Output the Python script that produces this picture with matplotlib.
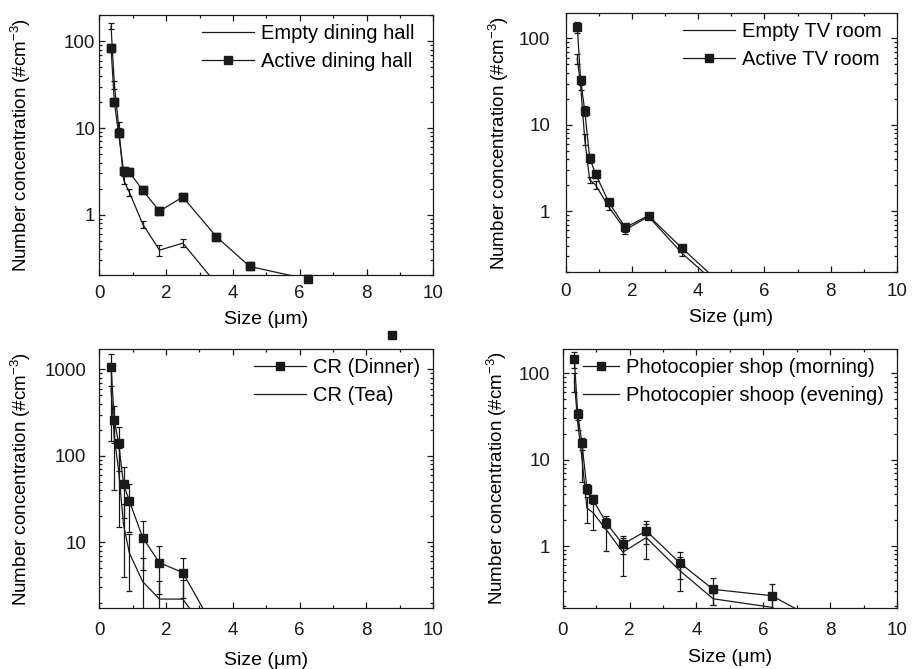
import matplotlib
matplotlib.use('Agg')
import matplotlib.pyplot as plt
from matplotlib import ticker

plt.rcParams['font.family'] = ['Liberation Sans', 'DejaVu Sans']
plt.rcParams['mathtext.default'] = 'regular'

# particle size bins (um)
size_bins = [0.35, 0.45, 0.575, 0.725, 0.9, 1.3, 1.8, 2.5, 3.5, 4.5, 6.25, 8.75]

# dining hall
empty_dining = [150, 31.6, 10.9, 2.53, 1.81, 0.78, 0.39, 0.47, 0.16]
empty_dining_err = [12, 3.5, 0.8, 0.25, 0.15, 0.07, 0.06, 0.05, 0.02]
active_dining = [84, 19.8, 8.75, 3.2, 3.1, 1.91, 1.1, 1.6, 0.56, 0.253, 0.18, 0.041]

# TV room
empty_tv = [58, 29, 6.8, 2.3, 2.03, 1.12, 0.61, 0.87, 0.33, 0.15]
empty_tv_err = [8, 4, 1.0, 0.2, 0.2, 0.08, 0.06, 0.04, 0.03, 0.02]
active_tv = [136, 33, 14.6, 4.1, 2.72, 1.27, 0.65, 0.89, 0.377, 0.168]
active_tv_err = [20, 4, 2, 0.5, 0.3, 0.1, 0.07, 0.05, 0.02, 0.02]

# CR
cr_dinner = [1070, 260, 142, 47, 30, 11.3, 5.8, 4.46, 0.92, 0.3]
cr_dinner_err = [430, 120, 75, 28, 17, 6.5, 3.3, 2.2, 0.5, 0.2]
cr_tea = [600, 160, 69, 16, 7.5, 3.5, 2.2, 2.2, 0.66]
cr_tea_err = [450, 120, 54, 12, 4.8, 3, 1.4, 1.5, 0.4]

# photocopier shop
copier_morning = [145, 34, 15.5, 4.6, 3.47, 1.86, 1.05, 1.5, 0.64, 0.315, 0.266, 0.08]
copier_morning_err = [30, 5, 2.5, 0.6, 0.4, 0.25, 0.25, 0.45, 0.22, 0.11, 0.1, 0.02]
copier_evening = [80, 27, 10.5, 2.75, 2.45, 1.55, 0.85, 1.25, 0.52, 0.245, 0.195, 0.07]
copier_evening_err = [20, 5, 5, 0.9, 0.9, 0.67, 0.4, 0.55, 0.22, 0.04, 0.05, 0.02]

K = '#1a1a1a'
LW = 0.9
MS = 6.3

fig = plt.figure(figsize=(9.13, 6.69), dpi=100)
ax1 = fig.add_axes([0.1088, 0.5885, 0.3658, 0.3887])
ax2 = fig.add_axes([0.6196, 0.5939, 0.3629, 0.3862])
ax3 = fig.add_axes([0.1088, 0.0907, 0.3655, 0.3876])
ax4 = fig.add_axes([0.6163, 0.0916, 0.3662, 0.3867])


def style(ax, ylim, xpad, ypad, xlab_y, ylab_x):
    ax.set_yscale('log')
    ax.set_xlim(0, 10)
    ax.set_ylim(*ylim)
    ax.xaxis.set_major_locator(ticker.MultipleLocator(2))
    ax.xaxis.set_minor_locator(ticker.MultipleLocator(1))
    ax.yaxis.set_major_formatter(ticker.FuncFormatter(lambda v, p: f'{v:g}'))
    ax.yaxis.set_minor_formatter(ticker.NullFormatter())
    ax.tick_params(which='both', direction='in', top=True, right=True,
                   width=0.9, colors=K, labelsize=13.5)
    ax.tick_params(which='major', length=4)
    ax.tick_params(which='minor', length=2.5)
    ax.tick_params(axis='x', which='major', pad=xpad)
    ax.tick_params(axis='y', which='major', pad=ypad)
    for s in ax.spines.values():
        s.set_linewidth(0.9)
        s.set_color(K)
    ax.set_xlabel('Size (μm)', fontsize=14)
    ax.set_ylabel('Number concentration (#cm$^{-3}$)', fontsize=13.5)
    ax.xaxis.set_label_coords(0.5, xlab_y)
    ax.yaxis.set_label_coords(ylab_x, 0.5)


def bars(ax, y, err):
    ax.errorbar(size_bins[:len(y)], y, yerr=err, fmt='none', ecolor=K,
                elinewidth=LW, capsize=2.2, capthick=LW)


def legend(ax, x, hl):
    ax.legend(loc='upper left', bbox_to_anchor=(x, 0.965), frameon=False,
              fontsize=14.5, borderpad=0, borderaxespad=0, handlelength=hl,
              handletextpad=0.35, labelspacing=0.45)


# dining hall
bars(ax1, empty_dining, empty_dining_err)
ax1.plot(size_bins[:len(empty_dining)], empty_dining, '-', color=K, lw=LW,
         label='Empty dining hall')
ax1.plot(size_bins, active_dining, '-s', color=K, lw=LW, ms=MS,
         label='Active dining hall')
ax1.plot(size_bins, active_dining, 's', color=K, ms=MS, clip_on=False)
style(ax1, (0.2, 200), 7, 3, -0.137, -0.2)
legend(ax1, 0.307, 2.6)

# TV room
bars(ax2, empty_tv, empty_tv_err)
bars(ax2, active_tv, active_tv_err)
ax2.plot(size_bins[:len(empty_tv)], empty_tv, '-', color=K, lw=LW,
         label='Empty TV room')
ax2.plot(size_bins[:len(active_tv)], active_tv, '-s', color=K, lw=LW, ms=MS,
         label='Active TV room')
style(ax2, (0.2, 195), 8, 11, -0.144, -0.165)
legend(ax2, 0.354, 2.6)

# CR
bars(ax3, cr_dinner, cr_dinner_err)
bars(ax3, cr_tea, cr_tea_err)
ax3.plot(size_bins[:len(cr_dinner)], cr_dinner, '-s', color=K, lw=LW, ms=MS,
         label='CR (Dinner)')
ax3.plot(size_bins[:len(cr_tea)], cr_tea, '-', color=K, lw=LW,
         label='CR (Tea)')
style(ax3, (1.72, 1720), 10, 9.5, -0.169, -0.2)
legend(ax3, 0.463, 2.6)

# photocopier shop
bars(ax4, copier_morning, copier_morning_err)
bars(ax4, copier_evening, copier_evening_err)
ax4.plot(size_bins, copier_morning, '-s', color=K, lw=LW, ms=MS,
         label='Photocopier shop (morning)')
ax4.plot(size_bins, copier_evening, '-', color=K, lw=LW,
         label='Photocopier shoop (evening)')
style(ax4, (0.193, 191), 10, 9, -0.16, -0.162)
legend(ax4, 0.06, 1.8)

fig.savefig('out.png', dpi=100)
